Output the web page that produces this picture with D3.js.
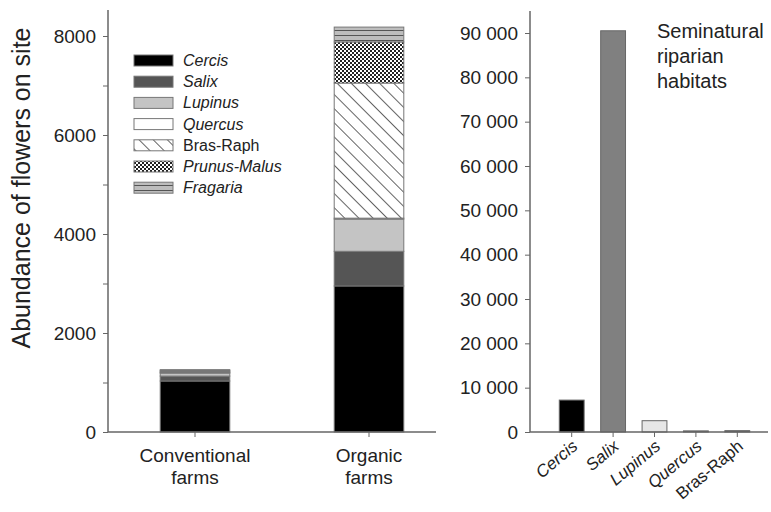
<!DOCTYPE html>
<html><head><meta charset="utf-8">
<script src="https://cdn.jsdelivr.net/npm/d3@7"></script>
<style>body{margin:0;background:#fff}text{font-family:"Liberation Sans",Arial,sans-serif}</style>
</head><body>
<svg id="c" width="771" height="512"></svg>
<script>
const farms = ["Conventional farms", "Organic farms"];
const species = ["Cercis", "Salix", "Lupinus", "Quercus", "Bras-Raph", "Prunus-Malus", "Fragaria"];
const conventional = [1030, 100, 60, 10, 20, 20, 20];
const organic = [2950, 700, 650, 20, 2730, 830, 300];
const leftTicks = [0, 2000, 4000, 6000, 8000];
const habitats = ["Cercis", "Salix", "Lupinus", "Quercus", "Bras-Raph"];
const riparian = [7200, 90500, 2550, 250, 300];
const rightTicks = [0,10000,20000,30000,40000,50000,60000,70000,80000,90000];

const svg = d3.select("#c");
const defs = svg.append("defs");
const ph = defs.append("pattern").attr("id","hatch").attr("patternUnits","userSpaceOnUse")
  .attr("width",10).attr("height",10).attr("patternTransform","rotate(45)");
ph.append("rect").attr("width",10).attr("height",10).attr("fill","#fff");
ph.append("line").attr("x1",0).attr("y1",0).attr("x2",10).attr("y2",0).attr("stroke","#222").attr("stroke-width",1.4);
const pc = defs.append("pattern").attr("id","check").attr("patternUnits","userSpaceOnUse").attr("width",4).attr("height",4);
pc.append("rect").attr("width",4).attr("height",4).attr("fill","#fff");
pc.append("rect").attr("width",2).attr("height",2).attr("fill","#222");
pc.append("rect").attr("x",2).attr("y",2).attr("width",2).attr("height",2).attr("fill","#222");
const pf = defs.append("pattern").attr("id","stripe").attr("patternUnits","userSpaceOnUse").attr("width",10).attr("height",5);
pf.append("rect").attr("width",10).attr("height",5).attr("fill","#bdbdbd");
pf.append("line").attr("x1",0).attr("y1",0.5).attr("x2",10).attr("y2",0.5).attr("stroke","#555").attr("stroke-width",1);

const fills = {"Cercis":"#000","Salix":"#555","Lupinus":"#c4c4c4","Quercus":"#fff",
  "Bras-Raph":"url(#hatch)","Prunus-Malus":"url(#check)","Fragaria":"url(#stripe)"};
const italic = s => s !== "Bras-Raph";
const axisCol = "#666";

// LEFT PANEL
const y1 = d3.scaleLinear().domain([0,8000]).range([432,36]);
const x1 = d3.scaleBand().domain(farms).range([108,456]).paddingInner(0.6).paddingOuter(0.3);
const gL = svg.append("g");
const stack = farms.map((f,i)=>{
  const vals = i===0?conventional:organic; let acc=0;
  return species.map((s,j)=>{const d={farm:f,sp:s,y0:acc,y1:acc+vals[j]}; acc+=vals[j]; return d;});
}).flat();
gL.selectAll("rect.seg").data(stack).enter().append("rect")
  .attr("x",d=>x1(d.farm)).attr("width",x1.bandwidth())
  .attr("y",d=>y1(d.y1)).attr("height",d=>y1(d.y0)-y1(d.y1))
  .attr("fill",d=>fills[d.sp]).attr("stroke","#777").attr("stroke-width",1);

const yAx = d3.axisLeft(y1).tickValues(d3.range(0,8001,1000)).tickSize(5)
  .tickFormat(d=>leftTicks.includes(d)?d:"");
const ga = gL.append("g").attr("transform","translate(108,0)").call(yAx);
ga.select(".domain").remove();
ga.selectAll("line").attr("stroke",axisCol);
ga.selectAll("text").attr("font-size",19).attr("fill","#222").attr("dx",-4);
gL.append("line").attr("x1",108).attr("x2",108).attr("y1",10).attr("y2",432).attr("stroke",axisCol).attr("stroke-width",1.5);
gL.append("line").attr("x1",108).attr("x2",436).attr("y1",432).attr("y2",432).attr("stroke",axisCol).attr("stroke-width",1.5);
const xa = d3.axisBottom(x1).tickSize(5).tickFormat("");
const gx = gL.append("g").attr("transform","translate(0,432)").call(xa);
gx.select(".domain").remove(); gx.selectAll("line").attr("stroke",axisCol);
farms.forEach(f=>{
  const parts = f.split(" ");
  const t = gL.append("text").attr("x",x1(f)+x1.bandwidth()/2).attr("y",462).attr("text-anchor","middle")
    .attr("font-size",19).attr("fill","#222");
  parts.forEach((p,i)=>t.append("tspan").attr("x",x1(f)+x1.bandwidth()/2).attr("dy",i?22:0).text(p));
});
svg.append("text").attr("transform","translate(30,188) rotate(-90)").attr("text-anchor","middle")
  .attr("font-size",25).attr("fill","#222").text("Abundance of flowers on site");

// legend
const lg = svg.append("g");
species.forEach((s,i)=>{
  const yy = 55 + i*21.2;
  lg.append("rect").attr("x",134).attr("y",yy).attr("width",39).attr("height",11)
    .attr("fill",fills[s]).attr("stroke","#777").attr("stroke-width",1);
  lg.append("text").attr("x",183).attr("y",yy+11).attr("font-size",16).attr("fill","#222")
    .attr("font-style",italic(s)?"italic":"normal").text(s);
});

// RIGHT PANEL
const y2 = d3.scaleLinear().domain([0,90000]).range([432,33]);
const x2 = d3.scaleBand().domain(habitats).range([551,758]).paddingInner(0.4).paddingOuter(0.2);
const rFill = {"Cercis":"#000","Salix":"#808080","Lupinus":"#e6e6e6","Quercus":"#555","Bras-Raph":"#555"};
const gR = svg.append("g");
gR.selectAll("rect").data(habitats).enter().append("rect")
  .attr("x",d=>x2(d)).attr("width",x2.bandwidth())
  .attr("y",(d,i)=>y2(riparian[i])).attr("height",(d,i)=>432-y2(riparian[i]))
  .attr("fill",d=>rFill[d]).attr("stroke","#666").attr("stroke-width",1);
const yAx2 = d3.axisLeft(y2).tickValues(rightTicks).tickSize(5)
  .tickFormat(d=>d===0?"0":d3.format(",")(d).replace(","," "));
const ga2 = gR.append("g").attr("transform","translate(530,0)").call(yAx2);
ga2.select(".domain").remove(); ga2.selectAll("line").attr("stroke",axisCol);
ga2.selectAll("text").attr("font-size",19).attr("fill","#222").attr("dx",-4);
gR.append("line").attr("x1",530).attr("x2",530).attr("y1",11).attr("y2",432).attr("stroke",axisCol).attr("stroke-width",1.5);
gR.append("line").attr("x1",530).attr("x2",768).attr("y1",432).attr("y2",432).attr("stroke",axisCol).attr("stroke-width",1.5);
const gx2 = gR.append("g").attr("transform","translate(0,432)").call(d3.axisBottom(x2).tickSize(5).tickFormat(""));
gx2.select(".domain").remove(); gx2.selectAll("line").attr("stroke",axisCol);
habitats.forEach(h=>{
  const cx = x2(h)+x2.bandwidth()/2;
  gR.append("text").attr("transform",`translate(${cx+7},${448}) rotate(-40)`).attr("text-anchor","end")
    .attr("font-size",17).attr("fill","#222").attr("font-style",italic(h)?"italic":"normal").text(h);
});
const tt = gR.append("text").attr("x",657).attr("y",38).attr("font-size",20).attr("fill","#222");
["Seminatural","riparian","habitats"].forEach((p,i)=>tt.append("tspan").attr("x",657).attr("dy",i?25:0).text(p));
</script>
</body></html>
